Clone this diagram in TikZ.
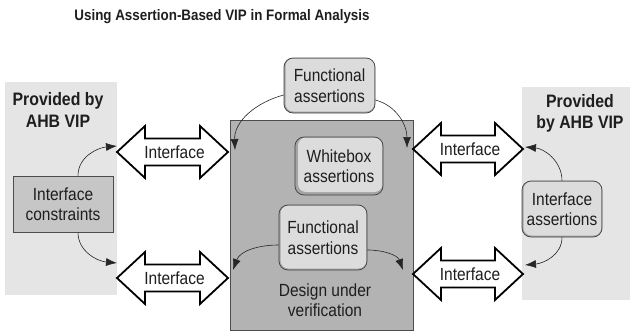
\documentclass[tikz,border=0pt]{standalone}
\usepackage{fontspec}
\setmainfont{Liberation Sans}[FakeStretch=0.88]
\usetikzlibrary{arrows.meta}
\definecolor{panel}{HTML}{E5E5E5}
\definecolor{dut}{HTML}{B3B3B3}
\definecolor{icbox}{HTML}{C6C6C6}
\definecolor{rfill}{HTML}{DCDCDC}
\definecolor{rshade}{HTML}{A4A4A4}
\definecolor{txt}{HTML}{1E1E1E}
\tikzset{
  body/.style={align=center, font=\fontsize{17.6}{20.5}\selectfont, text=txt, inner sep=0pt},
  head/.style={align=center, font=\fontsize{18}{21.5}\selectfont\bfseries, text=txt, inner sep=0pt},
  rbox/.style={body, rounded corners=9pt, draw=black!75, line width=0.7pt, fill=rshade,
    path picture={\fill[rfill, rounded corners=8pt]
      ([xshift=#1,yshift=#1]path picture bounding box.south west) rectangle
      ([xshift=-0.6pt,yshift=-0.6pt]path picture bounding box.north east);}},
  rbox/.default=1.5pt,
  arrbox/.style={draw=black, fill=white, line width=1.8pt, line join=miter},
  conn/.style={draw=black!85, line width=0.6pt, -{Latex[length=11pt,width=8pt]}},
}
\newcommand{\dblarr}[4]{%
  \draw[arrbox] (#1,#3) -- (#1+28,#3+26) -- (#1+28,#3+13.5) -- (#2-28,#3+13.5)
    -- (#2-28,#3+26) -- (#2,#3) -- (#2-28,#3-26) -- (#2-28,#3-13.5)
    -- (#1+28,#3-13.5) -- (#1+28,#3-26) -- cycle;
  \node[body] (#4) at ({(#1+#2)/2+2},#3) {Interface};}
\begin{document}
\begin{tikzpicture}[x=1pt,y=1pt]
\useasboundingbox (0,0) rectangle (630,333);
% title
\node[font=\fontsize{15.2}{18}\selectfont\bfseries, text=txt, inner sep=0pt] (title) at (222,316)
  {Using Assertion-Based VIP in Formal Analysis};
% panels
\fill[panel] (5,38) rectangle (117,251);
\fill[panel] (522,33) rectangle (630,246);
\node[head] (lhead) at (58,223) {Provided by\\AHB VIP};
\node[head] (rhead) at (580,219.5) {Provided\\by AHB VIP};
% design under verification
\draw[fill=dut, draw=black!70, line width=0.8pt] (230,3) rectangle (413,213);
\node[body] (dut) at (325,33) {Design under\\verification};
% interface arrows
\dblarr{117}{228}{181}{ifLT}
\dblarr{117}{228}{55}{ifLB}
\dblarr{413}{523}{184}{ifRT}
\dblarr{413}{523}{59}{ifRB}
% boxes
\node[body, draw=black!70, line width=0.7pt, fill=icbox, minimum width=100pt, minimum height=56pt]
  (ic) at (63,129) {Interface\\constraints};
\node[rbox, minimum width=91pt, minimum height=55pt] (tf) at (329.5,247.5) {Functional\\assertions};
\node[rbox=3pt, minimum width=88pt, minimum height=58pt] (wb) at (339,167) {Whitebox\\assertions};
\node[rbox, minimum width=88pt, minimum height=65pt] (lf) at (323,95.5) {Functional\\assertions};
\node[rbox, minimum width=80pt, minimum height=56pt] (ia) at (562,124) {Interface\\assertions};
% arrow tips
\coordinate (t1) at (117,187);
\coordinate (t2) at (117,70);
\coordinate (t3) at (235,183);
\coordinate (t4) at (407,185);
\coordinate (t5) at (233,63);
\coordinate (t6) at (403,63);
\coordinate (t7) at (525,186);
\coordinate (t8) at (525,68);
% connectors
\draw[conn] ([xshift=15pt]ic.north) to[out=90,in=185] (t1);
\draw[conn] ([xshift=15pt]ic.south) to[out=-90,in=175] (t2);
\draw[conn] ([yshift=-9.5pt]tf.west) to[out=195,in=92] (t3);
\draw[conn] ([yshift=-14.5pt]tf.east) to[out=-15,in=90] (t4);
\draw[conn] ([yshift=-7.5pt]lf.west) to[out=180,in=70] (t5);
\draw[conn] ([yshift=-12.5pt]lf.east) to[out=0,in=110] (t6);
\draw[conn] (ia.north) to[out=90,in=-5] (t7);
\draw[conn] (ia.south) to[out=-90,in=5] (t8);
\end{tikzpicture}
\end{document}
